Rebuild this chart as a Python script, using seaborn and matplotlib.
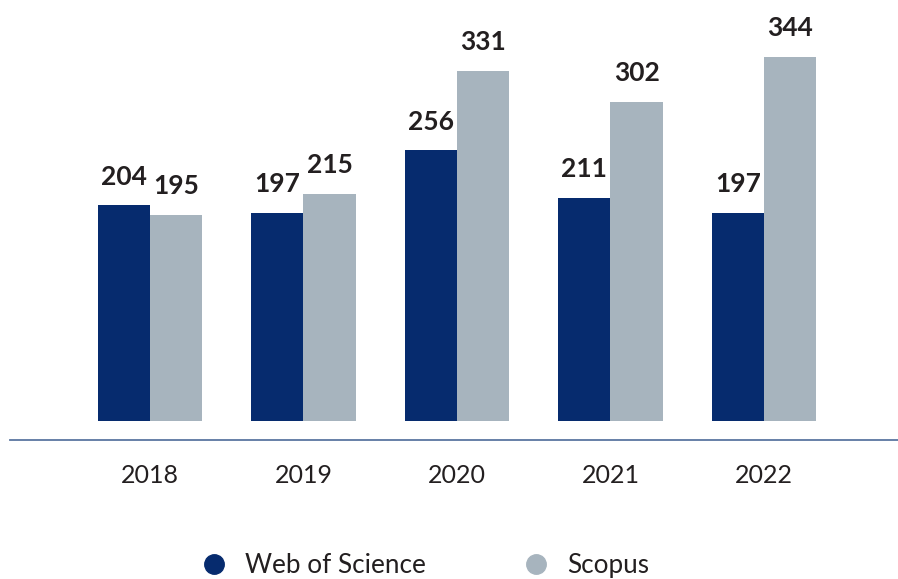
import matplotlib
matplotlib.use("Agg")
import matplotlib.pyplot as plt
from matplotlib.lines import Line2D
import seaborn as sns
import pandas as pd

years = ["2018", "2019", "2020", "2021", "2022"]
web_of_science = [204, 197, 256, 211, 197]
scopus = [195, 215, 331, 302, 344]
series_names = ["Web of Science", "Scopus"]
colors = ["#062B6E", "#A7B4BE"]
text_color = "#231F20"

sns.set_theme(style="white")
plt.rcParams["font.family"] = ["Lato", "DejaVu Sans"]

df = pd.DataFrame({
    "year": years * 2,
    "value": web_of_science + scopus,
    "series": [series_names[0]] * len(years) + [series_names[1]] * len(years),
})

fig = plt.figure(figsize=(8.98, 5.79), dpi=100)
ax = fig.add_axes([10 / 898, 1 - 440 / 579, 1 - 10 / 898, 440 / 579])

sns.barplot(data=df, x="year", y="value", hue="series", palette=colors,
            width=0.68, saturation=1, ax=ax, legend=False, linewidth=0)

for container in ax.containers:
    for bar in container:
        h = bar.get_height()
        ax.annotate(f"{int(round(h))}", (bar.get_x() + bar.get_width() / 2, h),
                    xytext=(0, 12), textcoords="offset points",
                    ha="center", va="bottom", fontsize=19, fontweight="bold",
                    color=text_color)

ax.set_xlim(-0.912, 4.873)
ax.set_ylim(-17.8, 398)
for s in ["top", "left", "right"]:
    ax.spines[s].set_visible(False)
ax.spines["bottom"].set_color("#5A76A0")
ax.spines["bottom"].set_linewidth(1.3)
ax.set_yticks([])
ax.set_xlabel("")
ax.set_ylabel("")
ax.tick_params(axis="x", length=0, pad=17, labelsize=18, labelcolor=text_color)

handles = [Line2D([0], [0], marker="o", linestyle="", markersize=14,
                  markerfacecolor=c, markeredgecolor=c) for c in colors]
leg = fig.legend(handles, series_names, loc="center", bbox_to_anchor=(0.466, 0.0225),
                 ncol=2, frameon=False, handletextpad=0.2, columnspacing=3.2,
                 prop={"size": 18.8})
for t in leg.get_texts():
    t.set_color(text_color)

fig.savefig("out.png", dpi=100)
